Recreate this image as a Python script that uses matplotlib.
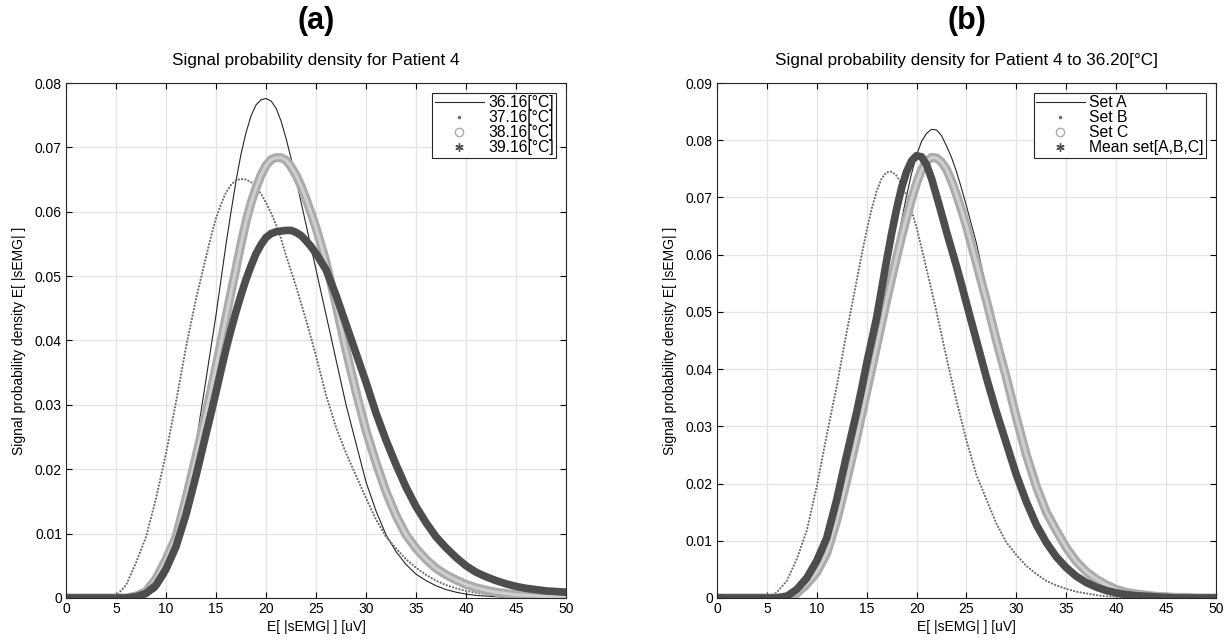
import matplotlib
matplotlib.use("Agg")
import matplotlib.pyplot as plt
from matplotlib.lines import Line2D
from matplotlib.ticker import FuncFormatter

plt.rcParams['font.family'] = ['Liberation Sans', 'DejaVu Sans']

# x grid [uV] (1 uV steps, 0.5 uV around the peaks)
x_uv = [0, 1, 2, 3, 4, 5, 6, 7, 8, 9, 10, 11, 12, 13,
        14, 14.5, 15, 15.5, 16, 16.5, 17, 17.5, 18, 18.5, 19, 19.5,
        20, 20.5, 21, 21.5, 22, 22.5, 23, 23.5, 24, 24.5, 25,
        26, 27, 28, 29, 30, 31, 32, 33, 34, 35, 36, 37, 38,
        39, 40, 41, 42, 43, 44, 45, 46, 47, 48, 49, 50]

# (a) Patient 4, four temperatures
p4_3616 = [0, 0, 0, 0, 0, 0, 0, 0, 0.0003, 0.0012, 0.0035, 0.008, 0.015, 0.024,
           0.034, 0.039, 0.044, 0.0495, 0.055, 0.060, 0.0648, 0.069, 0.0723, 0.0749, 0.0766, 0.0774,
           0.0776, 0.0772, 0.0761, 0.0741, 0.0714, 0.0683, 0.0650, 0.0615, 0.058, 0.0545, 0.051,
           0.044, 0.037, 0.030, 0.024, 0.018, 0.0135, 0.0098, 0.0072, 0.0052, 0.0037, 0.0027, 0.0019, 0.0013,
           0.0009, 0.0006, 0.0004, 0.0003, 0.0002, 0.0001, 0, 0, 0, 0, 0, 0]
p4_3716 = [0, 0, 0, 0, 0, 0.0003, 0.002, 0.0055, 0.0095, 0.0155, 0.0225, 0.0305, 0.039, 0.0465,
           0.053, 0.0562, 0.059, 0.0612, 0.063, 0.0642, 0.0649, 0.0651, 0.065, 0.0646, 0.0638, 0.0628,
           0.0614, 0.0598, 0.058, 0.0558, 0.0532, 0.0508, 0.0484, 0.0458, 0.0432, 0.0404, 0.0376,
           0.0315, 0.0265, 0.0225, 0.019, 0.0155, 0.0122, 0.0095, 0.0077, 0.006, 0.0047, 0.0036, 0.0027, 0.002,
           0.0015, 0.0011, 0.0008, 0.0006, 0.0004, 0.0003, 0.0002, 0.0001, 0.0001, 0.0001, 0, 0]
p4_3816 = [0, 0, 0, 0, 0, 0, 0, 0.0003, 0.001, 0.003, 0.006, 0.0095, 0.0155, 0.022,
           0.0287, 0.0323, 0.036, 0.0398, 0.0437, 0.0475, 0.0512, 0.055, 0.0585, 0.0614, 0.0637, 0.0657,
           0.0672, 0.0681, 0.0684, 0.0684, 0.068, 0.067, 0.0657, 0.064, 0.062, 0.0598, 0.0575,
           0.0522, 0.0455, 0.0385, 0.032, 0.026, 0.021, 0.0165, 0.0128, 0.0098, 0.0077, 0.006, 0.0046, 0.0036,
           0.0028, 0.0021, 0.0016, 0.0012, 0.0009, 0.0007, 0.0005, 0.0004, 0.0003, 0.0002, 0.0002, 0.0001]
p4_3916 = [0, 0, 0, 0, 0, 0, 0, 0.0002, 0.0007, 0.002, 0.0045, 0.008, 0.013, 0.019,
           0.0255, 0.0287, 0.032, 0.0354, 0.0387, 0.0417, 0.0445, 0.0471, 0.0495, 0.0516, 0.0535, 0.0549,
           0.056, 0.0566, 0.0569, 0.057, 0.0571, 0.0571, 0.0568, 0.0563, 0.0555, 0.0546, 0.0535,
           0.051, 0.047, 0.0425, 0.038, 0.0335, 0.0287, 0.0245, 0.0207, 0.0172, 0.0142, 0.0117, 0.0095, 0.0078,
           0.0063, 0.005, 0.004, 0.0033, 0.0027, 0.0022, 0.0018, 0.0015, 0.0013, 0.0011, 0.001, 0.0009]

# (b) Patient 4 at 36.20 C, three sets and their mean
set_a = [0, 0, 0, 0, 0, 0, 0, 0, 0.0004, 0.0015, 0.0035, 0.0068, 0.012, 0.019,
         0.027, 0.031, 0.0355, 0.04, 0.0445, 0.0488, 0.053, 0.0573, 0.0615, 0.066, 0.0703, 0.0742,
         0.0774, 0.0798, 0.0812, 0.0819, 0.0818, 0.0808, 0.079, 0.077, 0.0745, 0.0716, 0.0685,
         0.062, 0.054, 0.0465, 0.0395, 0.0325, 0.026, 0.0205, 0.0158, 0.012, 0.0089, 0.0065, 0.0047, 0.0033,
         0.0023, 0.0016, 0.0011, 0.0007, 0.0005, 0.0003, 0.0002, 0.0001, 0, 0, 0, 0]
set_b = [0, 0, 0, 0, 0, 0, 0.001, 0.003, 0.0068, 0.0118, 0.0195, 0.0285, 0.037, 0.0465,
         0.0555, 0.06, 0.0642, 0.068, 0.0711, 0.0733, 0.0744, 0.0745, 0.0738, 0.0723, 0.0703, 0.0677,
         0.0647, 0.0612, 0.0575, 0.0538, 0.05, 0.046, 0.042, 0.0382, 0.0345, 0.031, 0.0275,
         0.0215, 0.0172, 0.013, 0.0097, 0.0075, 0.0056, 0.0042, 0.003, 0.0022, 0.0016, 0.0011, 0.0008, 0.0005,
         0.0003, 0.0002, 0.0001, 0, 0, 0, 0, 0, 0, 0, 0, 0]
set_c = [0, 0, 0, 0, 0, 0, 0, 0.0002, 0.0008, 0.0025, 0.0045, 0.0078, 0.0135, 0.0205,
         0.028, 0.032, 0.036, 0.04, 0.044, 0.048, 0.052, 0.0558, 0.0595, 0.0631, 0.0665, 0.0697,
         0.0725, 0.0748, 0.0763, 0.077, 0.0769, 0.0762, 0.0749, 0.0729, 0.0705, 0.0678, 0.065,
         0.0585, 0.052, 0.045, 0.0385, 0.0315, 0.025, 0.0195, 0.015, 0.0118, 0.0088, 0.0064, 0.0046, 0.0033,
         0.0023, 0.0015, 0.001, 0.0007, 0.0005, 0.0003, 0.0002, 0.0001, 0.0001, 0, 0, 0]
set_mean = [0, 0, 0, 0, 0, 0, 0, 0.0003, 0.0015, 0.0035, 0.0065, 0.0105, 0.0172, 0.025,
            0.0325, 0.0366, 0.041, 0.045, 0.049, 0.054, 0.059, 0.0637, 0.068, 0.0717, 0.0745, 0.0764,
            0.0773, 0.0771, 0.0757, 0.0733, 0.0703, 0.0672, 0.064, 0.061, 0.058, 0.0548, 0.0515,
            0.045, 0.0385, 0.0325, 0.027, 0.0215, 0.0168, 0.0128, 0.0097, 0.0072, 0.0053, 0.0038, 0.0027, 0.0019,
            0.0013, 0.0009, 0.0006, 0.0004, 0.0003, 0.0002, 0.0001, 0, 0, 0, 0, 0]

labels_a = ['36.16[°C]', '37.16[°C]', '38.16[°C]', '39.16[°C]']
labels_b = ['Set A', 'Set B', 'Set C', 'Mean set[A,B,C]']

c_line = '#262626'
c_dot = '#6e6e6e'
c_circ = '#ababab'
c_star = '#4d4d4d'


def draw4(ax, ys):
    # thin line
    ax.plot(x_uv, ys[0], color=c_line, lw=0.8)
    # dotted series
    ax.plot(x_uv, ys[1], color=c_dot, lw=1.6, linestyle=(0, (0.05, 1.45)),
            dash_capstyle='round')
    # circle series -> light ring band
    ax.plot(x_uv, ys[2], color=c_circ, lw=6.5, solid_capstyle='round', solid_joinstyle='round')
    ax.plot(x_uv, ys[2], color='#cfcfcf', lw=2.2, solid_capstyle='round', solid_joinstyle='round')
    # asterisk series -> dark band
    ax.plot(x_uv, ys[3], color=c_star, lw=5.5, solid_capstyle='round', solid_joinstyle='round')


def style(ax, ymax, labels):
    ax.set_xlim(0, 50)
    ax.set_ylim(0, ymax)
    ax.set_xticks(range(0, 51, 5))
    ax.set_yticks([i / 100 for i in range(0, int(round(ymax * 100)) + 1)])
    ax.yaxis.set_major_formatter(FuncFormatter(lambda v, p: '0' if v == 0 else f'{v:.2f}'))
    ax.grid(True, color='#e3e3e3', lw=0.9)
    ax.set_axisbelow(True)
    ax.tick_params(direction='in', top=True, right=True, length=4, width=0.8,
                   labelsize=10, pad=3)
    for s in ax.spines.values():
        s.set_color('#262626')
        s.set_linewidth(0.8)
    ax.set_xlabel('E[ |sEMG| ] [uV]', fontsize=10, labelpad=3)
    ax.set_ylabel('Signal probability density E[ |sEMG| ]', fontsize=10, labelpad=6)
    handles = [
        Line2D([], [], color=c_line, lw=0.8),
        Line2D([], [], color=c_dot, marker='.', ms=3, ls='none'),
        Line2D([], [], color=c_circ, marker='o', ms=6, mfc='none', ls='none'),
        Line2D([], [], color=c_star, marker=(6, 2, 0), ms=6, ls='none'),
    ]
    leg = ax.legend(handles, labels, loc='upper right', fontsize=11.3,
                    fancybox=False, framealpha=1, edgecolor='#262626',
                    handlelength=3.1, handletextpad=0.28, labelspacing=0.0,
                    borderpad=0.15, borderaxespad=0.64)
    leg.get_frame().set_linewidth(0.8)


fig = plt.figure(figsize=(12.3, 6.41), dpi=100)
ax1 = fig.add_axes([0.0537, 0.0671, 0.4065, 0.8034])
ax2 = fig.add_axes([0.5829, 0.0671, 0.4057, 0.8034])

draw4(ax1, [p4_3616, p4_3716, p4_3816, p4_3916])
style(ax1, 0.08, labels_a)
ax1.set_title('Signal probability density for Patient 4', fontsize=12.3, pad=13)

draw4(ax2, [set_a, set_b, set_c, set_mean])
style(ax2, 0.09, labels_b)
ax2.set_title('Signal probability density for Patient 4 to 36.20[°C]', fontsize=12.3, pad=13)

fig.text(0.257, 0.968, '(a)', fontsize=22, fontweight='bold', ha='center', va='center')
fig.text(0.786, 0.968, '(b)', fontsize=22, fontweight='bold', ha='center', va='center')

fig.savefig('out.png', dpi=100)
